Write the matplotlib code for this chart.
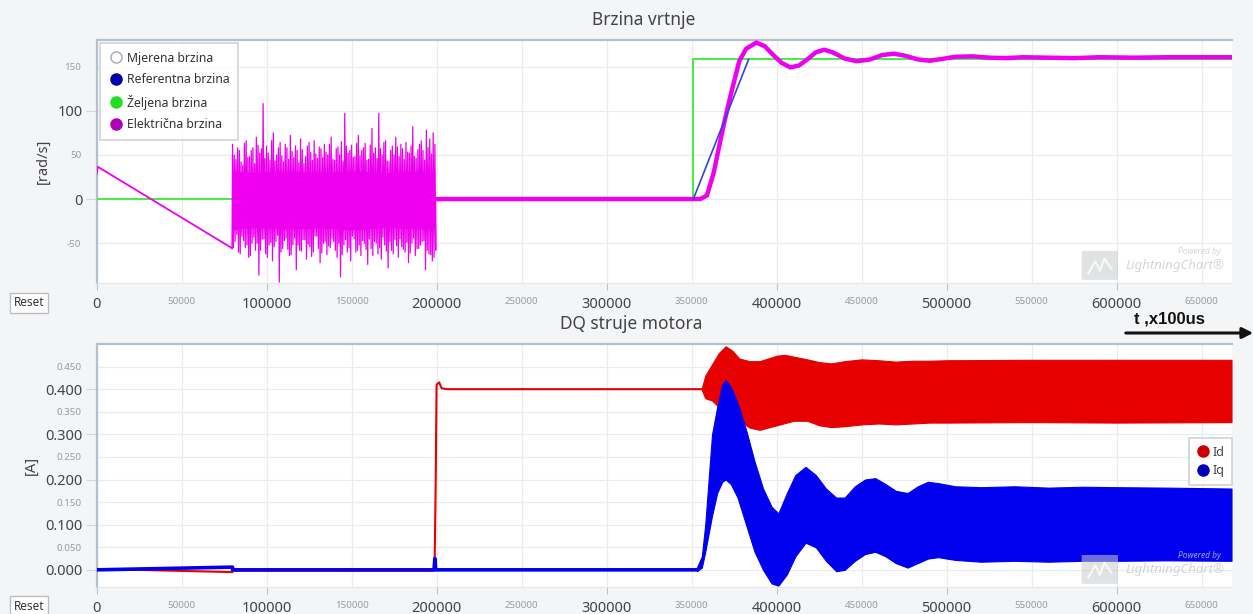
import numpy as np
import matplotlib
matplotlib.use("Agg")
import matplotlib.pyplot as plt
from matplotlib.lines import Line2D
from matplotlib.patches import FancyArrowPatch, FancyBboxPatch
from matplotlib.ticker import FixedLocator, FuncFormatter

plt.rcParams['font.family'] = ['Noto Sans', 'DejaVu Sans']

# ---------------- data: top chart (Brzina vrtnje) ----------------
x_max = 667500
zeljena_t = [0, 351000, 351000, x_max]
zeljena_v = [0, 0, 158, 158]

ref_t = [351000, 383500]
ref_v = [0, 158]

elec_ramp_t = [0, 800, 79700]
elec_ramp_v = [28, 36.5, -55.6]

# noisy interval 80000..199000: four interleaved sequences of extremes
elec_noise_hi = [62, 45, 55, 38, 66, 48, 58, 70, 52, 108, 60, 44, 75, 50, 64, 42, 58, 72, 47, 55,
                 68, 40, 60, 53, 66, 46, 57, 62, 50, 70, 44, 59, 65, 97, 52, 61, 48, 72, 55, 63,
                 45, 80, 58, 97, 50, 66, 42, 60, 70, 48, 57, 64, 52, 82, 46, 62, 55, 78, 68, 75]
elec_noise_lo = [-48, -60, -42, -55, -66, -50, -58, -86, -45, -62, -52, -70, -48, -94, -56, -44, -64, -52, -80, -58,
                 -46, -68, -54, -60, -42, -72, -50, -63, -55, -48, -66, -88, -52, -60, -70, -45, -58, -64, -50, -74,
                 -56, -48, -62, -68, -52, -78, -58, -46, -66, -54, -60, -72, -50, -64, -56, -48, -80, -62, -70, -58]
elec_noise_hi2 = [50, 58, 42, 63, 47, 55, 40, 61, 57, 46, 52, 66, 43, 58, 49, 62, 45, 54, 60, 41,
                  56, 48, 64, 44, 51, 59, 47, 53, 62, 45, 57, 50, 42, 60, 55, 47, 63, 49, 58, 44,
                  61, 52, 46, 57, 64, 43, 55, 50, 59, 62, 45, 53, 60, 48, 56, 66, 44, 58, 51, 62]
elec_noise_lo2 = [-55, -40, -62, -47, -52, -64, -43, -50, -58, -45, -66, -49, -54, -41, -60, -47, -57, -63, -44, -52,
                  -59, -46, -51, -65, -42, -56, -61, -48, -53, -44, -58, -50, -63, -46, -55, -42, -60, -52, -47, -57,
                  -45, -64, -50, -55, -43, -59, -48, -62, -53, -45, -57, -49, -61, -44, -56, -52, -47, -58, -63, -66]
elec_noise_start = 80000
elec_noise_step = 500

# dense (solid-looking) core of the noisy interval
elec_core_t = [80000, 90000, 110000, 130000, 150000, 170000, 190000, 199000]
elec_core_hi = [32, 30, 32, 30, 32, 30, 32, 30]
elec_core_lo = [-35, -32, -34, -33, -35, -32, -34, -33]

elec_rest_t = [199500, 355000, 359000, 363000, 366000, 369000, 373000, 378000, 382000, 388000,
               393000, 398000, 403000, 408000, 413000, 418000, 423000, 428000, 433000, 440000,
               447000, 455000, 462000, 469000, 476000, 483000, 490000, 497000, 505000, 515000,
               525000, 535000, 545000, 560000, 575000, 590000, 610000, 630000, x_max]
elec_rest_v = [0, 0, 4, 30, 58, 85, 118, 156, 170, 177,
               173, 163, 154, 149, 151, 158, 166, 169, 166, 159,
               156, 158, 163, 164.5, 162, 158, 156.5, 158.5, 161, 161.5,
               160, 159.5, 160.5, 160, 159.5, 160.5, 160, 160.5, 160.5]

top_legend = ["Mjerena brzina", "Referentna brzina", "Željena brzina", "Električna brzina"]

# ---------------- data: bottom chart (DQ struje motora) ----------------
id_t = [0, 80000, 80000, 198800, 199500, 200000, 201500, 203000, 206000, 356000]
id_v = [0.002, -0.005, -0.002, -0.002, 0.2, 0.41, 0.415, 0.402, 0.400, 0.400]

id_band_t = [356000, 358000, 362000, 366000, 370000, 374000, 378000, 384000, 390000, 395000,
             400000, 405000, 410000, 418000, 425000, 432000, 440000, 450000, 460000, 470000,
             480000, 490000, 500000, 550000, 600000, x_max]
id_band_lo = [0.398, 0.38, 0.375, 0.36, 0.36, 0.345, 0.33, 0.315, 0.31, 0.315,
              0.32, 0.325, 0.33, 0.33, 0.32, 0.316, 0.318, 0.322, 0.324, 0.322,
              0.324, 0.326, 0.326, 0.327, 0.326, 0.327]
id_band_hi = [0.402, 0.43, 0.455, 0.48, 0.495, 0.485, 0.468, 0.462, 0.462, 0.468,
              0.474, 0.476, 0.472, 0.466, 0.46, 0.457, 0.462, 0.466, 0.464, 0.461,
              0.463, 0.463, 0.464, 0.465, 0.465, 0.465]

iq_t = [0, 80000, 80000, 198500, 199000, 199500, 353000]
iq_v = [0.0, 0.006, 0.0, 0.0, 0.025, 0.0, 0.0]

iq_band_t = [353000, 356000, 358000, 360000, 362000, 365000, 368000, 370000, 373000, 377000,
             382000, 387000, 392000, 397000, 401000, 406000, 411000, 417000, 423000, 429000,
             435000, 440000, 446000, 452000, 458000, 464000, 470000, 477000, 483000, 489000,
             495000, 505000, 520000, 540000, 560000, 580000, 600000, 630000, x_max]
iq_band_lo = [-0.003, 0.005, 0.04, 0.08, 0.12, 0.17, 0.195, 0.2, 0.19, 0.16,
              0.10, 0.04, 0.0, -0.03, -0.035, -0.01, 0.03, 0.06, 0.05, 0.02,
              -0.003, 0.0, 0.02, 0.035, 0.04, 0.03, 0.015, 0.005, 0.015, 0.025,
              0.028, 0.022, 0.018, 0.02, 0.018, 0.02, 0.02, 0.021, 0.02]
iq_band_hi = [0.004, 0.03, 0.10, 0.20, 0.30, 0.36, 0.41, 0.42, 0.405, 0.37,
              0.31, 0.24, 0.18, 0.14, 0.125, 0.17, 0.21, 0.228, 0.21, 0.18,
              0.16, 0.16, 0.185, 0.2, 0.203, 0.19, 0.175, 0.17, 0.185, 0.195,
              0.192, 0.185, 0.183, 0.185, 0.182, 0.184, 0.183, 0.182, 0.18]

bottom_legend = ["Id", "Iq"]

x_major = [0, 100000, 200000, 300000, 400000, 500000, 600000]
x_minor = [50000, 150000, 250000, 350000, 450000, 550000, 650000]
top_y_major = [0, 100]
top_y_minor = [-50, 50, 150]
bot_y_major = [0.0, 0.1, 0.2, 0.3, 0.4]
bot_y_minor = [0.05, 0.15, 0.25, 0.35, 0.45]

# ---------------- figure ----------------
W, H = 1253, 614
fig = plt.figure(figsize=(W / 100, H / 100), dpi=100)
fig.patch.set_facecolor('#f4f5f7')


def fx(px):
    return px / W


def fy(py):
    return 1 - py / H


ax1 = fig.add_axes([fx(96.5), fy(283), fx(1231.5) - fx(96.5), fy(40) - fy(283)])
ax2 = fig.add_axes([fx(96.5), fy(587), fx(1231.5) - fx(96.5), fy(344) - fy(587)])


def style_axes(ax, ymaj, ymin, yfmt):
    ax.set_facecolor('white')
    ax.set_xlim(0, x_max)
    ax.xaxis.set_major_locator(FixedLocator(x_major))
    ax.xaxis.set_minor_locator(FixedLocator(x_minor))
    ax.xaxis.set_major_formatter(FuncFormatter(lambda v, p: f"{int(v)}"))
    ax.xaxis.set_minor_formatter(FuncFormatter(lambda v, p: f"{int(v)}"))
    ax.yaxis.set_major_locator(FixedLocator(ymaj))
    ax.yaxis.set_minor_locator(FixedLocator(ymin))
    ax.yaxis.set_major_formatter(FuncFormatter(yfmt))
    ax.yaxis.set_minor_formatter(FuncFormatter(yfmt))
    ax.tick_params(axis='x', which='major', labelsize=10.5, labelcolor='#444444',
                   length=5, color='#b8c2cc', pad=5)
    ax.tick_params(axis='x', which='minor', labelsize=7, labelcolor='#9a9a9a',
                   length=0, pad=10)
    ax.tick_params(axis='y', which='major', labelsize=10.5, labelcolor='#444444',
                   length=8, color='#d0d6dc', pad=2)
    ax.tick_params(axis='y', which='minor', labelsize=7, labelcolor='#9a9a9a',
                   length=0, pad=11)
    ax.grid(True, which='both', color='#e9ebee', lw=0.9)
    ax.set_axisbelow(True)
    ax.spines['top'].set_color('#b4c0cc')
    ax.spines['top'].set_linewidth(1.6)
    ax.spines['left'].set_color('#b4c0cc')
    ax.spines['left'].set_linewidth(1.6)
    ax.spines['bottom'].set_color('#e4e7ea')
    ax.spines['right'].set_visible(False)


style_axes(ax1, top_y_major, top_y_minor, lambda v, p: f"{int(round(v))}")
style_axes(ax2, bot_y_major, bot_y_minor, lambda v, p: f"{v:.3f}")
ax1.set_ylim(-95, 180)
ax2.set_ylim(-0.038, 0.50)

# ---- top series
magenta = '#ee00ee'
ax1.plot(zeljena_t, zeljena_v, color='#44ee44', lw=1.4, zorder=3)
ax1.plot(elec_ramp_t, elec_ramp_v, color=magenta, lw=1.3, zorder=4)
ax1.fill_between(elec_core_t, elec_core_lo, elec_core_hi, color=magenta, lw=0, zorder=4)
noise_v = []
for a, b, c, d in zip(elec_noise_hi, elec_noise_lo2, elec_noise_hi2, elec_noise_lo):
    noise_v += [a, b, c, d]
noise_t = elec_noise_start + elec_noise_step * np.arange(len(noise_v))
ax1.plot(np.r_[elec_ramp_t[-1], noise_t, elec_rest_t[0]],
         np.r_[elec_ramp_v[-1], noise_v, elec_rest_v[0]], color=magenta, lw=0.9, zorder=4)
ax1.plot(elec_rest_t, elec_rest_v, color=magenta, lw=3.2, zorder=4, solid_joinstyle='round')
ax1.plot(ref_t, ref_v, color='#3344dd', lw=1.2, zorder=5)

handles1 = [
    Line2D([], [], ls='none', marker='o', ms=8, mfc='white', mec='#a0a8b0', mew=1),
    Line2D([], [], ls='none', marker='o', ms=8, mfc='#0000a8', mec='#0000a8'),
    Line2D([], [], ls='none', marker='o', ms=8, mfc='#22dd22', mec='#22dd22'),
    Line2D([], [], ls='none', marker='o', ms=8, mfc='#b000b8', mec='#b000b8'),
]
leg1 = fig.legend(handles1, top_legend, loc='upper left', bbox_to_anchor=(fx(100), fy(43)),
                  bbox_transform=fig.transFigure, frameon=True, fontsize=8.8,
                  borderaxespad=0, handletextpad=0.3, labelspacing=0.7,
                  borderpad=0.7, handlelength=1.2, fancybox=False, labelcolor='#333333')
leg1.get_frame().set_edgecolor('#c4cad0')
leg1.get_frame().set_linewidth(1.2)

# ---- bottom series
red = '#e60000'
blue = '#0000ee'
ax2.plot(id_t, id_v, color=red, lw=1.5, zorder=3)
ax2.fill_between(id_band_t, id_band_lo, id_band_hi, color=red, lw=0.8, edgecolor=red, zorder=3)
ax2.plot(iq_t, iq_v, color=blue, lw=2.6, zorder=4)
ax2.fill_between(iq_band_t, iq_band_lo, iq_band_hi, color=blue, lw=0.8, edgecolor=blue, zorder=4)

handles2 = [
    Line2D([], [], ls='none', marker='o', ms=8, mfc='#cc0000', mec='#cc0000'),
    Line2D([], [], ls='none', marker='o', ms=8, mfc='#0000bb', mec='#0000bb'),
]
leg2 = fig.legend(handles2, bottom_legend, loc='upper right', bbox_to_anchor=(fx(1232), fy(438)),
                  bbox_transform=fig.transFigure, frameon=True, fontsize=9,
                  borderaxespad=0, handletextpad=0.3, labelspacing=0.45,
                  borderpad=0.6, handlelength=1.0, fancybox=False, labelcolor='#444444')
leg2.get_frame().set_edgecolor('#c4cad0')
leg2.get_frame().set_linewidth(1.2)
leg2.set_zorder(10)

# ---- titles & labels
fig.text(fx(644), fy(20), "Brzina vrtnje", ha='center', va='center', fontsize=12.5, color='#444444')
fig.text(fx(631), fy(324), "DQ struje motora", ha='center', va='center', fontsize=12.5, color='#444444')
fig.text(fx(43), fy(161), "[rad/s]", ha='center', va='center', rotation=90, fontsize=10.5, color='#444444')
fig.text(fx(31), fy(465), "[A]", ha='center', va='center', rotation=90, fontsize=10.5, color='#444444')

# arrow with time unit
fig.text(fx(1169), fy(319), "t ,x100us", ha='center', va='center', fontsize=12,
         fontweight='bold', color='#111111', family=['Liberation Sans', 'DejaVu Sans'])
fig.add_artist(FancyArrowPatch(
    (fx(1123), fy(333)), (fx(1256), fy(333)), transform=fig.transFigure,
    arrowstyle='-|>', mutation_scale=16, lw=2.2, color='#111111'))

# reset buttons
for py in (303, 606):
    fig.text(fx(29), fy(py), "Reset", ha='center', va='center', fontsize=8.5, color='#333333',
             bbox=dict(boxstyle='square,pad=0.3', fc='white', ec='#b8bec4', lw=1))

# watermarks (LightningChart logo)
for ax in (ax1, ax2):
    ax.add_patch(FancyBboxPatch((0.870, 0.015), 0.028, 0.115, boxstyle='round,pad=0.002',
                                transform=ax.transAxes, fc='#c8cbce', ec='none', alpha=0.55, zorder=6))
    ax.plot([0.874, 0.880, 0.884, 0.888, 0.894], [0.04, 0.09, 0.05, 0.10, 0.06],
            transform=ax.transAxes, color='white', lw=1.5, alpha=0.8, zorder=6)
    ax.text(0.991, 0.128, "Powered by", transform=ax.transAxes, ha='right', va='center',
            fontsize=6, color='#c8ccd0', style='italic', alpha=0.8, zorder=6)
    ax.text(0.994, 0.074, "LightningChart®", transform=ax.transAxes, ha='right', va='center',
            fontsize=9.5, color='#c8ccd0', style='italic', alpha=0.8, zorder=6)

fig.savefig("out.png", dpi=100, facecolor=fig.get_facecolor())
